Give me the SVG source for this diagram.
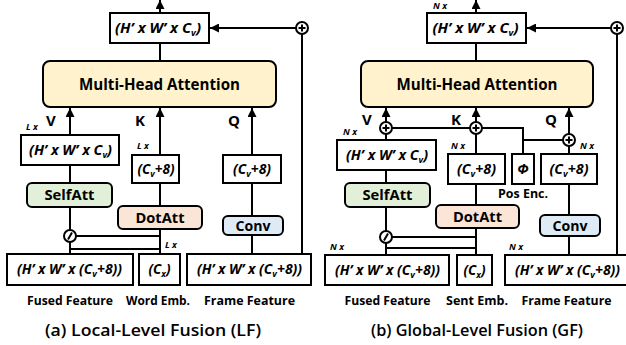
<svg xmlns="http://www.w3.org/2000/svg" width="626" height="345" viewBox="0 0 626 345">
<defs>
<marker id="ah" viewBox="0 0 10 10" refX="10" refY="5" markerWidth="9" markerHeight="9" markerUnits="userSpaceOnUse" orient="auto">
<path d="M0,0 L10,5 L0,10 z" fill="#000"/>
</marker>
<style>
text{font-family:"Open Sans","Liberation Sans",sans-serif;fill:#000}
.box{fill:#fff;stroke:#000;stroke-width:2}
.mha{fill:#fff2cc;stroke:#000;stroke-width:2}
.sa{fill:#e2f0d9;stroke:#000;stroke-width:2}
.da{fill:#fbe5d6;stroke:#000;stroke-width:2}
.cv{fill:#deebf7;stroke:#000;stroke-width:2}
.bt{font-size:14.5px;font-weight:bold;font-style:italic;text-anchor:middle}
.bs{font-size:14px;font-weight:bold;font-style:italic;text-anchor:middle}
.sub{font-size:9px}
.op{font-size:15px;font-weight:bold;text-anchor:middle}
.big{font-size:15.5px;font-weight:bold;text-anchor:middle}
.lbl{font-size:15px;font-weight:bold}
.rep{font-size:9px;font-weight:bold;font-style:italic}
.cap{font-size:12.5px;font-weight:bold;text-anchor:middle}
.title{font-size:16px;font-weight:600;text-anchor:middle}
.ln{fill:none;stroke:#000;stroke-width:2}
.arr{fill:none;stroke:#000;stroke-width:2;marker-end:url(#ah)}
.circ{fill:#fff;stroke:#000;stroke-width:2}
</style>
</defs>

<!-- ===== Left panel (a) ===== -->
<g id="connectors-a">
<line class="arr" x1="160" y1="13" x2="160" y2="0"/>
<line class="ln" x1="160" y1="43" x2="160" y2="61"/>
<line class="arr" x1="296" y1="28" x2="210" y2="28"/>
<line class="ln" x1="302" y1="34" x2="302" y2="254"/>
<line class="arr" x1="70" y1="135" x2="70" y2="108"/>
<line class="arr" x1="160" y1="155" x2="160" y2="108"/>
<line class="arr" x1="252" y1="155" x2="252" y2="108"/>
<line class="ln" x1="70" y1="165" x2="70" y2="183"/>
<line class="ln" x1="160" y1="183" x2="160" y2="206"/>
<line class="ln" x1="252" y1="183" x2="252" y2="216"/>
<line class="ln" x1="252" y1="235" x2="252" y2="254"/>
<line class="ln" x1="70" y1="207" x2="70" y2="230"/>
<line class="ln" x1="70" y1="242" x2="70" y2="254"/>
<line class="ln" x1="160" y1="229" x2="160" y2="254"/>
<line class="ln" x1="76" y1="236" x2="160" y2="236"/>
<line class="ln" x1="70" y1="249" x2="160" y2="249"/>
</g>
<g id="a-out">
<rect class="box" x="110" y="13" width="99" height="30"/>
<text class="bt" x="158" y="33" textLength="86" lengthAdjust="spacingAndGlyphs">(H’ x W’ x C<tspan class="sub" dy="3">v</tspan><tspan dy="-3">)</tspan></text>
</g>
<g id="a-add">
<circle class="circ" cx="302" cy="28" r="6"/>
<path class="ln" d="M298.5,28 H305.5 M302,24.5 V31.5" stroke-width="1.6"/>
</g>
<g id="a-mha">
<rect class="mha" x="43" y="61" width="233" height="46" rx="7"/>
<text class="big" x="159.5" y="90" textLength="161" lengthAdjust="spacingAndGlyphs">Multi-Head Attention</text>
</g>
<g id="a-labels">
<text class="lbl" x="46" y="126">V</text>
<text class="lbl" x="135" y="126">K</text>
<text class="lbl" x="228" y="126">Q</text>
<text class="rep" x="26" y="130">L x</text>
<text class="rep" x="137" y="149">L x</text>
<text class="rep" x="165" y="248">L x</text>
</g>
<g id="a-v">
<rect class="box" x="21" y="135" width="98" height="30"/>
<text class="bt" x="70.5" y="155" textLength="83" lengthAdjust="spacingAndGlyphs">(H’ x W’ x C<tspan class="sub" dy="3">v</tspan><tspan dy="-3">)</tspan></text>
</g>
<g id="a-k">
<rect class="box" x="132" y="155" width="47" height="28"/>
<text class="bs" x="156" y="174" textLength="37" lengthAdjust="spacingAndGlyphs">(C<tspan class="sub" dy="3">v</tspan><tspan dy="-3">+8)</tspan></text>
</g>
<g id="a-q">
<rect class="box" x="223" y="155" width="58" height="28"/>
<text class="bs" x="252" y="174" textLength="38" lengthAdjust="spacingAndGlyphs">(C<tspan class="sub" dy="3">v</tspan><tspan dy="-3">+8)</tspan></text>
</g>
<g id="a-selfatt">
<rect class="sa" x="27" y="183" width="85" height="24" rx="5"/>
<text class="op" x="69.5" y="200" textLength="50" lengthAdjust="spacingAndGlyphs">SelfAtt</text>
</g>
<g id="a-dotatt">
<rect class="da" x="118" y="206" width="84" height="23" rx="5"/>
<text class="op" x="160" y="223" textLength="49" lengthAdjust="spacingAndGlyphs">DotAtt</text>
</g>
<g id="a-conv">
<rect class="cv" x="223" y="216" width="60" height="19" rx="5"/>
<text class="op" x="253" y="231" textLength="35" lengthAdjust="spacingAndGlyphs">Conv</text>
</g>
<g id="a-concat">
<circle class="circ" cx="70" cy="236" r="6"/>
<line class="ln" x1="68" y1="239.5" x2="72" y2="232.5" stroke-width="1.6"/>
</g>
<g id="a-fused">
<rect class="box" x="7" y="254" width="126" height="31"/>
<text class="bs" x="69.5" y="274" textLength="105" lengthAdjust="spacingAndGlyphs">(H’ x W’ x (C<tspan class="sub" dy="3">v</tspan><tspan dy="-3">+8))</tspan></text>
</g>
<g id="a-word">
<rect class="box" x="139" y="254" width="41" height="31"/>
<text class="bs" x="159.5" y="274" textLength="22" lengthAdjust="spacingAndGlyphs">(C<tspan class="sub" dy="3">x</tspan><tspan dy="-3">)</tspan></text>
</g>
<g id="a-frame">
<rect class="box" x="187" y="254" width="124" height="31"/>
<text class="bs" x="249.5" y="274" textLength="105" lengthAdjust="spacingAndGlyphs">(H’ x W’ x (C<tspan class="sub" dy="3">v</tspan><tspan dy="-3">+8))</tspan></text>
</g>
<g id="a-captions">
<text class="cap" x="70" y="305" textLength="86" lengthAdjust="spacingAndGlyphs">Fused Feature</text>
<text class="cap" x="158" y="305" textLength="64" lengthAdjust="spacingAndGlyphs">Word Emb.</text>
<text class="cap" x="249.5" y="305" textLength="91" lengthAdjust="spacingAndGlyphs">Frame Feature</text>
<text class="title" x="153" y="336" textLength="216" lengthAdjust="spacingAndGlyphs">(a) Local-Level Fusion (LF)</text>
</g>

<!-- ===== Right panel (b) ===== -->
<g id="connectors-b">
<line class="arr" x1="476" y1="13" x2="476" y2="0"/>
<line class="ln" x1="476" y1="43" x2="476" y2="61"/>
<line class="arr" x1="611" y1="28" x2="527" y2="28"/>
<line class="ln" x1="617" y1="34" x2="617" y2="255"/>
<line class="arr" x1="386" y1="122" x2="386" y2="108"/>
<line class="arr" x1="476" y1="122" x2="476" y2="108"/>
<line class="arr" x1="569" y1="134" x2="569" y2="108"/>
<line class="ln" x1="386" y1="140" x2="386" y2="134"/>
<line class="ln" x1="476" y1="154" x2="476" y2="134"/>
<line class="ln" x1="569" y1="154" x2="569" y2="146"/>
<line class="ln" x1="392" y1="128" x2="470" y2="128"/>
<polyline class="ln" points="482,128 523,128 523,154"/>
<line class="ln" x1="523" y1="140" x2="563" y2="140"/>
<line class="ln" x1="386" y1="170" x2="386" y2="183"/>
<line class="ln" x1="476" y1="184" x2="476" y2="205"/>
<line class="ln" x1="569" y1="184" x2="569" y2="215"/>
<line class="ln" x1="569" y1="236" x2="569" y2="255"/>
<line class="ln" x1="386" y1="207" x2="386" y2="231"/>
<line class="ln" x1="386" y1="243" x2="386" y2="255"/>
<line class="ln" x1="476" y1="228" x2="476" y2="255"/>
<line class="ln" x1="392" y1="237" x2="476" y2="237"/>
<line class="ln" x1="386" y1="248" x2="476" y2="248"/>
</g>
<g id="b-out">
<rect class="box" x="427" y="13" width="99" height="30"/>
<text class="bt" x="475.5" y="33" textLength="86" lengthAdjust="spacingAndGlyphs">(H’ x W’ x C<tspan class="sub" dy="3">v</tspan><tspan dy="-3">)</tspan></text>
</g>
<g id="b-add-out">
<circle class="circ" cx="617" cy="28" r="6"/>
<path class="ln" d="M613.5,28 H620.5 M617,24.5 V31.5" stroke-width="1.6"/>
</g>
<g id="b-mha">
<rect class="mha" x="361" y="61" width="232" height="46" rx="7"/>
<text class="big" x="477" y="90" textLength="161" lengthAdjust="spacingAndGlyphs">Multi-Head Attention</text>
</g>
<g id="b-add-v">
<circle class="circ" cx="386" cy="128" r="6"/>
<path class="ln" d="M382.5,128 H389.5 M386,124.5 V131.5" stroke-width="1.6"/>
</g>
<g id="b-add-k">
<circle class="circ" cx="476" cy="128" r="6"/>
<path class="ln" d="M472.5,128 H479.5 M476,124.5 V131.5" stroke-width="1.6"/>
</g>
<g id="b-add-q">
<circle class="circ" cx="569" cy="140" r="6"/>
<path class="ln" d="M565.5,140 H572.5 M569,136.5 V143.5" stroke-width="1.6"/>
</g>
<g id="b-labels">
<text class="lbl" x="362" y="125">V</text>
<text class="lbl" x="451" y="125">K</text>
<text class="lbl" x="545" y="125">Q</text>
<text class="rep" x="433" y="9">N x</text>
<text class="rep" x="343" y="135">N x</text>
<text class="rep" x="451" y="149">N x</text>
<text class="rep" x="580" y="149">N x</text>
<text class="rep" x="330" y="250">N x</text>
<text class="rep" x="509" y="250">N x</text>
</g>
<g id="b-v">
<rect class="box" x="337" y="140" width="99" height="30"/>
<text class="bt" x="387" y="160" textLength="82" lengthAdjust="spacingAndGlyphs">(H’ x W’ x C<tspan class="sub" dy="3">v</tspan><tspan dy="-3">)</tspan></text>
</g>
<g id="b-k">
<rect class="box" x="448" y="154" width="57" height="30"/>
<text class="bs" x="476.5" y="174" textLength="39" lengthAdjust="spacingAndGlyphs">(C<tspan class="sub" dy="3">v</tspan><tspan dy="-3">+8)</tspan></text>
</g>
<g id="b-pos">
<rect class="box" x="512" y="154" width="22" height="30"/>
<text class="bs" x="523" y="174">Φ</text>
<text class="cap" x="523" y="198" textLength="50" lengthAdjust="spacingAndGlyphs">Pos Enc.</text>
</g>
<g id="b-q">
<rect class="box" x="541" y="154" width="56" height="30"/>
<text class="bs" x="569" y="174" textLength="39" lengthAdjust="spacingAndGlyphs">(C<tspan class="sub" dy="3">v</tspan><tspan dy="-3">+8)</tspan></text>
</g>
<g id="b-selfatt">
<rect class="sa" x="345" y="183" width="85" height="24" rx="5"/>
<text class="op" x="387.5" y="200" textLength="50" lengthAdjust="spacingAndGlyphs">SelfAtt</text>
</g>
<g id="b-dotatt">
<rect class="da" x="436" y="205" width="83" height="23" rx="5"/>
<text class="op" x="477.5" y="222" textLength="49" lengthAdjust="spacingAndGlyphs">DotAtt</text>
</g>
<g id="b-conv">
<rect class="cv" x="540" y="215" width="60" height="21" rx="5"/>
<text class="op" x="570" y="231" textLength="35" lengthAdjust="spacingAndGlyphs">Conv</text>
</g>
<g id="b-concat">
<circle class="circ" cx="386" cy="237" r="6"/>
<line class="ln" x1="384" y1="240.5" x2="388" y2="233.5" stroke-width="1.6"/>
</g>
<g id="b-fused">
<rect class="box" x="325" y="255" width="124" height="30"/>
<text class="bs" x="387.5" y="275" textLength="105" lengthAdjust="spacingAndGlyphs">(H’ x W’ x (C<tspan class="sub" dy="3">v</tspan><tspan dy="-3">+8))</tspan></text>
</g>
<g id="b-sent">
<rect class="box" x="457" y="255" width="35" height="30"/>
<text class="bs" x="474.5" y="275" textLength="22" lengthAdjust="spacingAndGlyphs">(C<tspan class="sub" dy="3">x</tspan><tspan dy="-3">)</tspan></text>
</g>
<g id="b-frame">
<rect class="box" x="505" y="255" width="124" height="30"/>
<text class="bs" x="567.5" y="275" textLength="105" lengthAdjust="spacingAndGlyphs">(H’ x W’ x (C<tspan class="sub" dy="3">v</tspan><tspan dy="-3">+8))</tspan></text>
</g>
<g id="b-captions">
<text class="cap" x="387.5" y="305" textLength="86" lengthAdjust="spacingAndGlyphs">Fused Feature</text>
<text class="cap" x="477" y="305" textLength="62" lengthAdjust="spacingAndGlyphs">Sent Emb.</text>
<text class="cap" x="566.5" y="305" textLength="90" lengthAdjust="spacingAndGlyphs">Frame Feature</text>
<text class="title" x="477" y="336" textLength="212" lengthAdjust="spacingAndGlyphs">(b) Global-Level Fusion (GF)</text>
</g>
</svg>
